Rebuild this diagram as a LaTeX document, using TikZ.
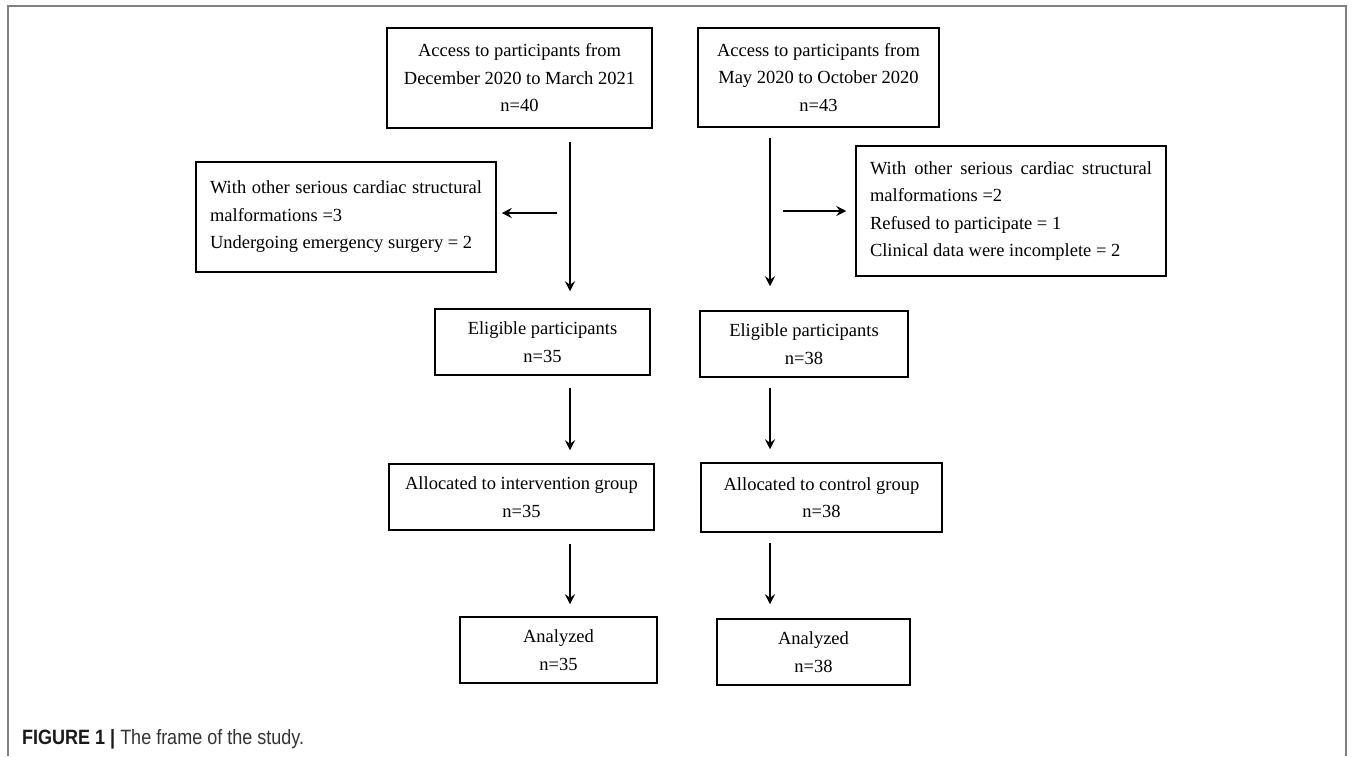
\documentclass[tikz,border=0pt]{standalone}
\usepackage{fontspec}
\usepackage{graphicx}
\setmainfont{Liberation Serif}
\newfontfamily\capfont{Liberation Sans}
\usetikzlibrary{arrows.meta}

\begin{document}
\begin{tikzpicture}[x=1pt,y=-1pt,
        box/.style={draw,line width=1.5pt,inner sep=0pt,align=center,
            font=\fontsize{18.5}{27.5}\selectfont},
        exbox/.style={box,align=justify},
        arr/.style={line width=1.7pt,-{Stealth[length=10pt,width=10pt,inset=3.5pt]}}]
    \useasboundingbox (0,0) rectangle (1357,756);
    \draw[line width=2pt,black!50] (8,756) -- (8,6) -- (1346,6) -- (1346,756);

    \node[box,minimum width=265pt,minimum height=100pt] (accL) at (519.5,78)
        {Access to participants from\\December 2020 to March 2021\\n=40};
    \node[box,minimum width=241pt,minimum height=99pt] (accR) at (818.5,77.5)
        {Access to participants from\\May 2020 to October 2020\\n=43};
    \node[exbox,minimum width=300pt,minimum height=110pt,text width=272pt] (excL) at (346,217)
        {With other serious cardiac structural malformations =3\\Undergoing emergency surgery = 2};
    \node[exbox,minimum width=310pt,minimum height=130pt,text width=282pt] (excR) at (1011,211)
        {With other serious cardiac structural malformations =2\\Refused to participate = 1\\Clinical data were incomplete = 2};
    \node[box,minimum width=215pt,minimum height=66pt] (elgL) at (542.5,342)
        {Eligible participants\\n=35};
    \node[box,minimum width=208pt,minimum height=66pt] (elgR) at (804,344)
        {Eligible participants\\n=38};
    \node[box,minimum width=265pt,minimum height=66pt] (allL) at (521.5,497)
        {Allocated to intervention group\\n=35};
    \node[box,minimum width=241pt,minimum height=69pt] (allR) at (821.5,497.5)
        {Allocated to control group\\n=38};
    \node[box,minimum width=197pt,minimum height=66pt] (anaL) at (558.5,650)
        {Analyzed\\n=35};
    \node[box,minimum width=193pt,minimum height=66pt] (anaR) at (813.5,652)
        {Analyzed\\n=38};

    \coordinate (colL) at (570,0);
    \coordinate (colR) at (770,0);

    \draw[arr,shorten <=13pt,shorten >=17pt] (colL |- accL.south) -- (colL |- elgL.north);
    \draw[arr,shorten <=12pt,shorten >=13pt] (colL |- elgL.south) -- (colL |- allL.north);
    \draw[arr,shorten <=13pt,shorten >=12pt] (colL |- allL.south) -- (colL |- anaL.north);
    \draw[arr,shorten <=10pt,shorten >=24pt] (colR |- accR.south) -- (colR |- elgR.north);
    \draw[arr,shorten <=10pt,shorten >=13pt] (colR |- elgR.south) -- (colR |- allR.north);
    \draw[arr,shorten <=10pt,shorten >=14pt] (colR |- allR.south) -- (colR |- anaR.north);
    \draw[arr,shorten <=13pt,shorten >=5pt] ([yshift=4pt]excL.east -| colL) -- ([yshift=4pt]excL.east);
    \draw[arr,shorten <=13pt,shorten >=9pt] (excR.west -| colR) -- (excR.west);

    \node[anchor=west,inner sep=0pt,font=\capfont\fontsize{18}{20}\selectfont,text=black!80] (cap) at (22,739)
        {\scalebox{1}[1.15]{{\bfseries\color{black!90}FIGURE 1 |} The frame of the study.}};
\end{tikzpicture}
\end{document}
